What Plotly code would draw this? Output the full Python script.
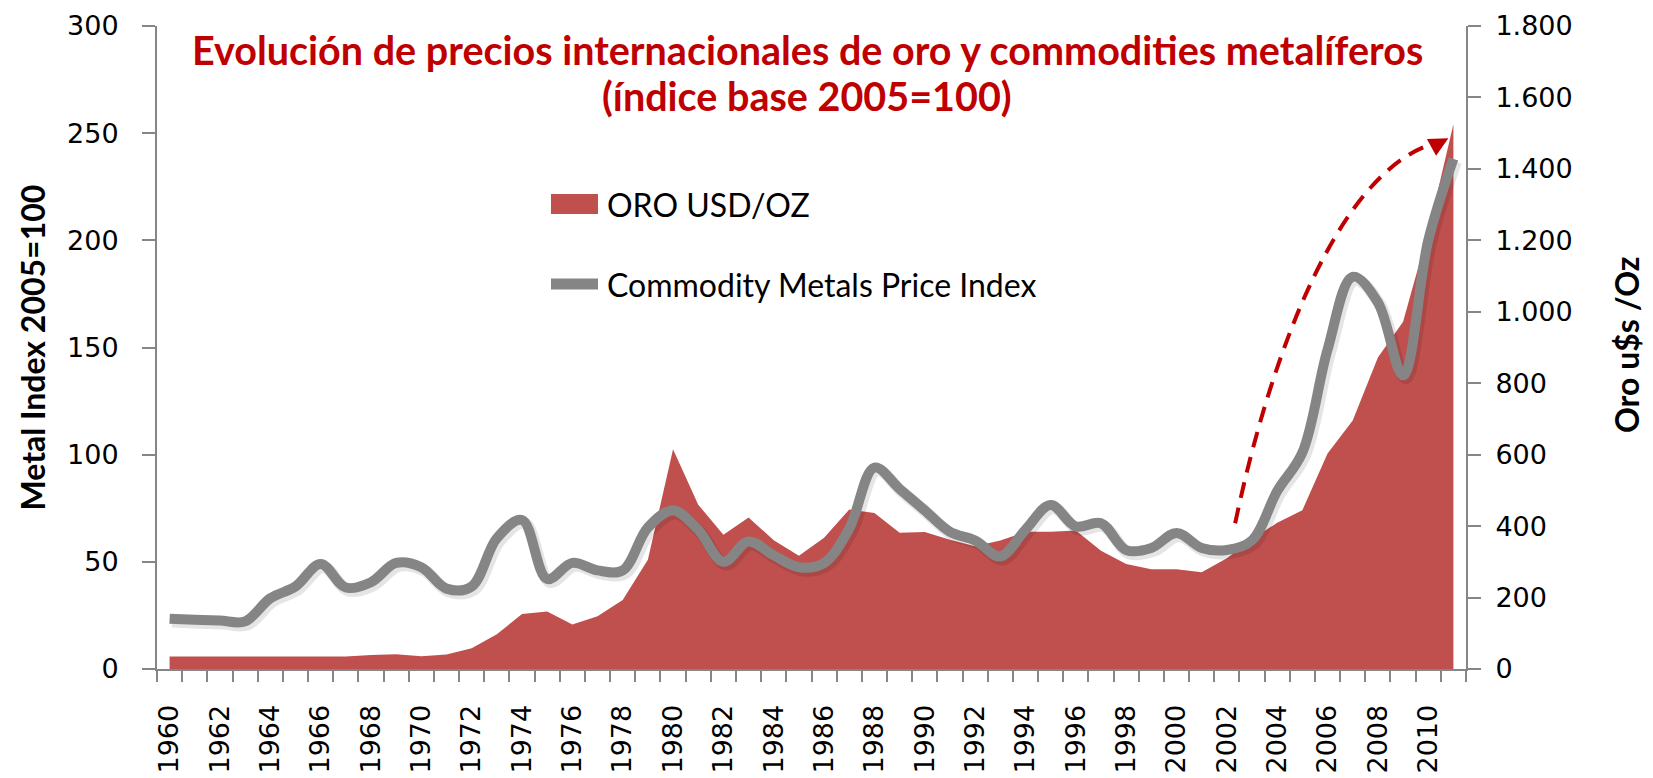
import plotly.graph_objects as go

# ---------------- data ----------------
years = list(range(1960, 2012))
gold_usd_oz = [35.3, 35.3, 35.2, 35.1, 35.1, 35.1, 35.1, 35.0, 39.3, 41.3,
               36.0, 40.6, 58.4, 97.4, 154.0, 160.9, 124.7, 147.8, 193.4, 306.0,
               615.0, 460.0, 376.0, 424.0, 360.7, 317.3, 367.5, 446.5, 437.0, 381.4,
               383.5, 362.1, 343.8, 359.8, 384.0, 384.1, 387.8, 331.0, 294.2, 278.9,
               279.1, 271.0, 310.0, 363.4, 409.7, 444.7, 603.5, 695.4, 872.0, 972.4,
               1224.5, 1525.0]
metals_index = [23.5, 23.0, 22.6, 22.2, 33.0, 38.5, 49.0, 38.0, 40.5, 49.5,
                47.5, 37.5, 38.5, 61.0, 69.5, 42.0, 49.5, 46.0, 46.0, 66.0,
                74.0, 65.0, 50.0, 59.5, 53.0, 47.5, 49.5, 65.5, 94.0, 84.0,
                74.0, 64.0, 60.0, 52.5, 65.0, 76.5, 66.5, 68.0, 55.5, 56.5,
                63.5, 56.5, 55.5, 60.0, 83.0, 101.0, 149.0, 183.0, 171.0, 137.0,
                200.0, 238.0]
label_years = years[::2]  # 1960..2010 every 2 years
left_ticks = [0, 50, 100, 150, 200, 250, 300]
right_ticks = [0, 200, 400, 600, 800, 1000, 1200, 1400, 1600, 1800]

# dashed trend arrow (annotation), in (year, USD/oz)
arrow_start = (2002.33, 408)
arrow_ctrl1 = (2003.8, 900)
arrow_ctrl2 = (2006.6, 1420)
arrow_end = (2010.55, 1477)
arrow_tip = (2010.8, 1486)
arrow_tail = (2010.2, 1463)

title_line1 = "<b>Evolución de precios internacionales de oro y commodities metalíferos</b>"
title_line2 = "<b>(índice base 2005=100)</b>"
left_title = "<b>Metal Index 2005=100</b>"
right_title = "<b>Oro u$s /Oz</b>"
gold_name = "ORO USD/OZ"
metals_name = "Commodity Metals Price Index"

RED = "#C0504D"
GRAY = "#858585"
AXIS = "#868686"
TITLE_RED = "#C00000"
TXT_FONT = "Lato"
NUM_FONT = "DejaVu Sans"

fig = go.Figure()

# gold area (right axis)
fig.add_trace(go.Scatter(
    x=years, y=gold_usd_oz, yaxis="y2", mode="lines",
    line=dict(width=0, color=RED), fill="tozeroy", fillcolor=RED,
    name=gold_name, showlegend=False, hoverinfo="x+y"))

# soft shadow of metals line
fig.add_trace(go.Scatter(
    x=[y + 0.1 for y in years], y=[v - 1.4 for v in metals_index], yaxis="y",
    mode="lines", line=dict(width=12, color="rgba(0,0,0,0.10)", shape="spline", smoothing=1.0),
    showlegend=False, hoverinfo="skip"))

# metals index line (left axis)
fig.add_trace(go.Scatter(
    x=years, y=metals_index, yaxis="y", mode="lines",
    line=dict(width=10, color=GRAY, shape="spline", smoothing=1.0),
    name=metals_name, showlegend=False))

L, R, T, B = 157, 187, 26, 109
W, H = 1653, 778
pw, ph = W - L - R, H - T - B


def px(xpix):
    return (xpix - L) / pw


def py(ypix):
    return (H - B - ypix) / ph


shapes = [
    # dashed curved arrow
    dict(type="path", xref="x", yref="y2",
         path=(f"M {arrow_start[0]},{arrow_start[1]} C {arrow_ctrl1[0]},{arrow_ctrl1[1]} "
               f"{arrow_ctrl2[0]},{arrow_ctrl2[1]} {arrow_end[0]},{arrow_end[1]}"),
         line=dict(color=TITLE_RED, width=4, dash="16px,10px"), layer="above"),
    # legend symbols
    dict(type="rect", xref="paper", yref="paper", x0=px(551), x1=px(598), y0=py(214), y1=py(194),
         fillcolor=RED, line=dict(width=0)),
    dict(type="line", xref="paper", yref="paper", x0=px(551), x1=px(598), y0=py(284), y1=py(284),
         line=dict(color=GRAY, width=11)),
]

annotations = [
    dict(x=arrow_tip[0], y=arrow_tip[1], xref="x", yref="y2",
         ax=arrow_tail[0], ay=arrow_tail[1], axref="x", ayref="y2",
         showarrow=True, arrowhead=2, arrowsize=1.1, arrowwidth=3.5, arrowcolor=TITLE_RED,
         standoff=0, text=""),
    dict(x=px(807), y=py(49), xref="paper", yref="paper", xanchor="center", yanchor="middle",
         text=title_line1, showarrow=False, font=dict(family=TXT_FONT, size=39.5, color=TITLE_RED)),
    dict(x=px(807), y=py(95), xref="paper", yref="paper", xanchor="center", yanchor="middle",
         text=title_line2, showarrow=False, font=dict(family=TXT_FONT, size=39.5, color=TITLE_RED)),
    dict(x=px(605), y=py(204), xref="paper", yref="paper", xanchor="left", yanchor="middle",
         text=gold_name, showarrow=False, font=dict(family=TXT_FONT, size=32, color="black")),
    dict(x=px(605), y=py(284), xref="paper", yref="paper", xanchor="left", yanchor="middle",
         text=metals_name, showarrow=False, font=dict(family=TXT_FONT, size=32, color="black")),
    dict(x=px(32), y=0.5, xref="paper", yref="paper", xanchor="center", yanchor="middle",
         textangle=-90, text=left_title, showarrow=False,
         font=dict(family=TXT_FONT, size=32, color="black")),
    dict(x=px(1626), y=py(345), xref="paper", yref="paper", xanchor="center", yanchor="middle",
         textangle=-90, text=right_title, showarrow=False,
         font=dict(family=TXT_FONT, size=32, color="black")),
]

fig.update_layout(
    width=W, height=H,
    margin=dict(l=L, r=R, t=T, b=B, autoexpand=False),
    paper_bgcolor="white", plot_bgcolor="white",
    separators=",.",
    showlegend=False,
    xaxis=dict(
        range=[years[0] - 0.5, years[-1] + 0.5], automargin=False,
        tickmode="array", tickvals=label_years, ticktext=[str(y) for y in label_years],
        tickangle=-90, ticks="", ticklabelstandoff=23,
        tickfont=dict(family=NUM_FONT, size=27, color="black"),
        showline=True, linecolor=AXIS, linewidth=2, showgrid=False, zeroline=False,
        minor=dict(tickmode="array", tickvals=[y - 0.5 for y in years] + [years[-1] + 0.5],
                   ticks="outside", ticklen=11, tickwidth=2, tickcolor=AXIS, showgrid=False),
    ),
    yaxis=dict(
        range=[0, 300], tickmode="array", tickvals=left_ticks, side="left",
        overlaying="y2", anchor="x", automargin=False,
        ticks="outside", ticklen=13, tickwidth=2, tickcolor=AXIS, ticklabelstandoff=18,
        tickfont=dict(family=NUM_FONT, size=27, color="black"),
        showline=True, linecolor=AXIS, linewidth=2, showgrid=False, zeroline=False,
    ),
    yaxis2=dict(
        range=[0, 1800], tickmode="array", tickvals=right_ticks, tickformat=",d",
        side="right", anchor="x", automargin=False,
        ticks="outside", ticklen=13, tickwidth=2, tickcolor=AXIS, ticklabelstandoff=9,
        tickfont=dict(family=NUM_FONT, size=27, color="black"),
        showline=True, linecolor=AXIS, linewidth=2, showgrid=False, zeroline=False,
    ),
    shapes=shapes,
    annotations=annotations,
)

fig.write_html("out.html", config={"displayModeBar": False},
               post_script="document.body.style.margin='0';document.body.style.overflow='hidden';")
